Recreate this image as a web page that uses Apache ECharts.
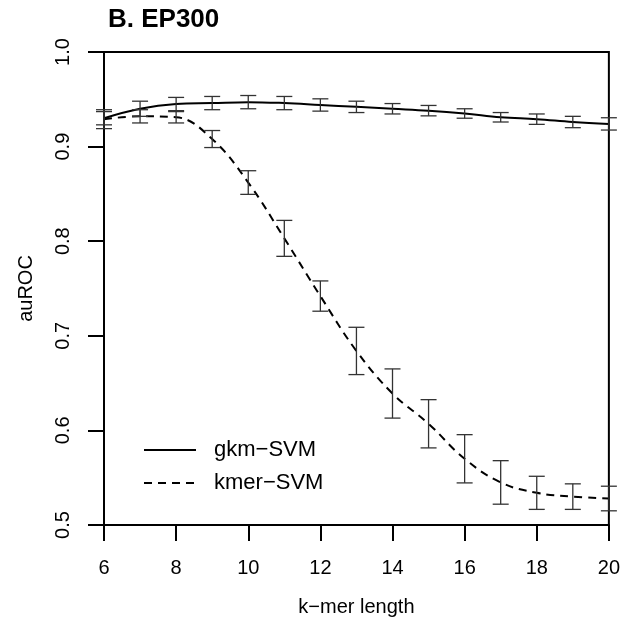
<!DOCTYPE html>
<html>
<head>
<meta charset="utf-8">
<script src="https://cdn.jsdelivr.net/npm/echarts@6/dist/echarts.min.js"></script>
<style>html,body{margin:0;padding:0;background:#fff}#c{width:623px;height:624px}</style>
</head>
<body>
<div id="c"></div>
<script>
var kmerLengths = [6,7,8,9,10,11,12,13,14,15,16,17,18,19,20];
var gkmMean = [0.930,0.940,0.945,0.946,0.947,0.946,0.944,0.942,0.940,0.938,0.935,0.931,0.929,0.926,0.924];
var gkmErr  = [0.007,0.008,0.007,0.007,0.007,0.007,0.0065,0.006,0.0055,0.0055,0.005,0.005,0.0055,0.006,0.0065];
var kmerMean = [0.929,0.932,0.931,0.908,0.862,0.803,0.742,0.684,0.639,0.607,0.570,0.545,0.534,0.530,0.528];
var kmerErr  = [0.010,0.007,0.006,0.009,0.0125,0.019,0.016,0.025,0.026,0.0255,0.0255,0.023,0.0175,0.0135,0.013];
var yTicks = [0.5,0.6,0.7,0.8,0.9,1.0];
var xTicks = [6,8,10,12,14,16,18,20];

var FONT = 'Liberation Sans, Arial, Helvetica, sans-serif';
function pairs(xs, ys){ return xs.map(function(x,i){return [x, ys[i]];}); }
function errData(xs, m, e){ return xs.map(function(x,i){return [x, m[i]-e[i], m[i]+e[i]];}); }

function renderErr(params, api){
  var x = api.value(0), lo = api.value(1), hi = api.value(2);
  var pLo = api.coord([x, lo]), pHi = api.coord([x, hi]);
  var w = 8;
  var st = {stroke:'#333', lineWidth:1.3};
  return {type:'group', children:[
    {type:'line', shape:{x1:pLo[0],y1:pLo[1],x2:pHi[0],y2:pHi[1]}, style:st},
    {type:'line', shape:{x1:pLo[0]-w,y1:pLo[1],x2:pLo[0]+w,y2:pLo[1]}, style:st},
    {type:'line', shape:{x1:pHi[0]-w,y1:pHi[1],x2:pHi[0]+w,y2:pHi[1]}, style:st}
  ]};
}

var chart = echarts.init(document.getElementById('c'));
chart.setOption({
  animation:false,
  backgroundColor:'#fff',
  title:{text:'B. EP300', left:103, top:2, textStyle:{fontFamily:FONT, fontSize:26, fontWeight:'bold', color:'#000'}},
  grid:{left:104, right:14, top:52, bottom:99, show:true, borderColor:'#000', borderWidth:2, backgroundColor:'transparent'},
  legend:{
    orient:'vertical', left:138, top:434, itemWidth:52, itemHeight:14, itemGap:11,
    data:['gkm\u2212SVM','kmer\u2212SVM'],
    itemStyle:{color:'rgba(0,0,0,0)', borderWidth:0, opacity:0},
    textStyle:{fontFamily:FONT, fontSize:22, color:'#000', padding:[0,0,0,13]}
  },
  xAxis:{
    type:'value', min:6, max:20, interval:2,
    name:'k\u2212mer length', nameLocation:'middle', nameGap:72,
    nameTextStyle:{fontFamily:FONT, fontSize:20, color:'#000'},
    axisLine:{show:true, onZero:false, lineStyle:{color:'#000', width:2}},
    axisTick:{show:true, length:16, lineStyle:{color:'#000', width:2}},
    axisLabel:{fontFamily:FONT, fontSize:20, color:'#000', margin:33,
      customValues: xTicks},
    splitLine:{show:false}
  },
  yAxis:{
    type:'value', min:0.5, max:1.0, interval:0.1,
    name:'auROC', nameLocation:'middle', nameGap:68,
    nameTextStyle:{fontFamily:FONT, fontSize:20, color:'#000'},
    axisLine:{show:true, onZero:false, lineStyle:{color:'#000', width:2}},
    axisTick:{show:true, length:16, lineStyle:{color:'#000', width:2}},
    axisLabel:{fontFamily:FONT, fontSize:20, color:'#000', margin:31, rotate:90,
      formatter:function(v){return v.toFixed(1);}},
    splitLine:{show:false}
  },
  series:[
    {name:'gkm\u2212SVM', type:'line', data:pairs(kmerLengths,gkmMean), smooth:0.4, symbol:'none',
      lineStyle:{color:'#000', width:2}, itemStyle:{color:'#000'}, z:3},
    {name:'kmer\u2212SVM', type:'line', data:pairs(kmerLengths,kmerMean), smooth:0.4, symbol:'none',
      lineStyle:{color:'#000', width:2, type:[8,6]}, itemStyle:{color:'#000'}, z:3},
    {name:'gkmErr', type:'custom', renderItem:renderErr, data:errData(kmerLengths,gkmMean,gkmErr), z:4, silent:true},
    {name:'kmerErr', type:'custom', renderItem:renderErr, data:errData(kmerLengths,kmerMean,kmerErr), z:4, silent:true}
  ]
});
</script>
</body>
</html>
